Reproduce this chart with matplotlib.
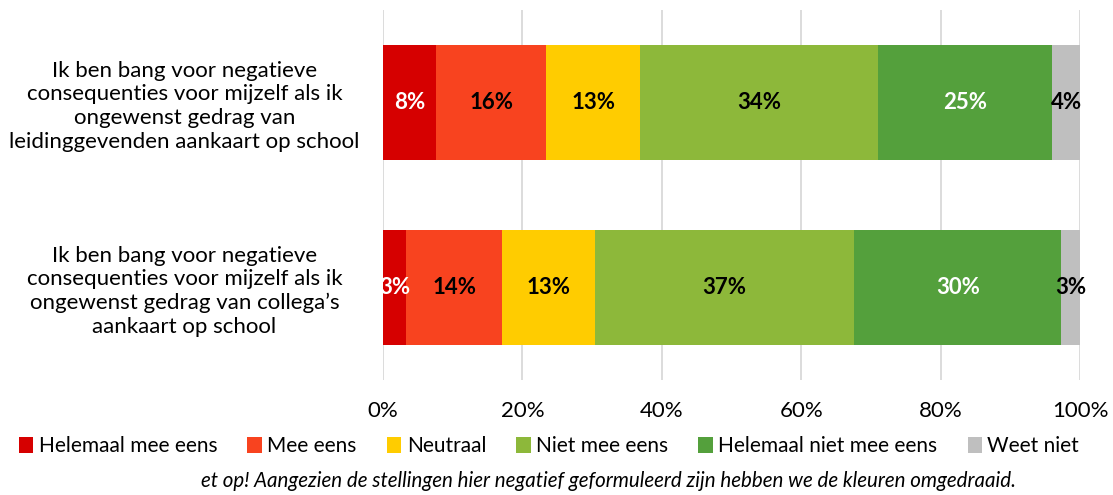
import matplotlib
matplotlib.use("Agg")
import matplotlib.pyplot as plt
import numpy as np

plt.rcParams['font.family'] = ['Lato', 'DejaVu Sans']

categories = [
    "Ik ben bang voor negatieve\nconsequenties voor mijzelf als ik\nongewenst gedrag van\nleidinggevenden aankaart op school",
    "Ik ben bang voor negatieve\nconsequenties voor mijzelf als ik\nongewenst gedrag van collega\u2019s\naankaart op school",
]
series_names = ["Helemaal mee eens", "Mee eens", "Neutraal", "Niet mee eens",
                "Helemaal niet mee eens", "Weet niet"]
values = [
    [7.6, 3.3],
    [15.8, 13.8],
    [13.5, 13.3],
    [34.1, 37.2],
    [25.0, 29.7],
    [4.0, 2.7],
]
labels = [
    ["8%", "3%"],
    ["16%", "14%"],
    ["13%", "13%"],
    ["34%", "37%"],
    ["25%", "30%"],
    ["4%", "3%"],
]
colors = ["#D60000", "#F8431F", "#FFCC00", "#8DB83A", "#54A03C", "#BFBFBF"]
label_colors = ["white", "black", "black", "black", "white", "black"]
note = "et op! Aangezien de stellingen hier negatief geformuleerd zijn hebben we de kleuren omgedraaid."

W, H = 1113, 495
fig = plt.figure(figsize=(W / 100, H / 100), dpi=100)
ax = fig.add_axes([383 / W, 1 - 380 / H, (1080 - 383) / W, (380 - 10) / H])

ypos = np.array([1, 0])
left = np.zeros(2)
handles = []
for i, (name, vals) in enumerate(zip(series_names, values)):
    v = np.array(vals)
    b = ax.barh(ypos, v, left=left, height=0.62, color=colors[i], label=name, zorder=2)
    handles.append(b)
    for j in range(2):
        ax.text(left[j] + v[j] / 2, ypos[j], labels[i][j], ha='center', va='center',
                color=label_colors[i], fontsize=16, fontweight='bold', zorder=3)
    left += v

ax.set_xlim(0, 100)
ax.set_ylim(-0.5, 1.5)
ax.set_xticks(np.arange(0, 101, 20))
ax.set_xticklabels([f"{t}%" for t in range(0, 101, 20)], fontsize=16)
ax.tick_params(axis='x', length=0, pad=15)
ax.set_yticks(ypos)
ax.set_yticklabels(categories, fontsize=16, ha='center', linespacing=1.22)
ax.tick_params(axis='y', length=0, pad=143)
ax.grid(axis='x', color='#D9D9D9', linewidth=1.3, zorder=0)
for s in ax.spines.values():
    s.set_visible(False)

fig.legend(handles=handles, labels=series_names, loc='center',
           bbox_to_anchor=(549 / W, 1 - 446 / H), ncol=6, frameon=False,
           fontsize=15, handlelength=0.7, handleheight=0.8, handletextpad=0.25,
           columnspacing=1.45)
fig.text(608 / W, 1 - 481 / H, note, ha='center', va='center', fontsize=14.8, style='italic')

fig.savefig("out.png", dpi=100)
